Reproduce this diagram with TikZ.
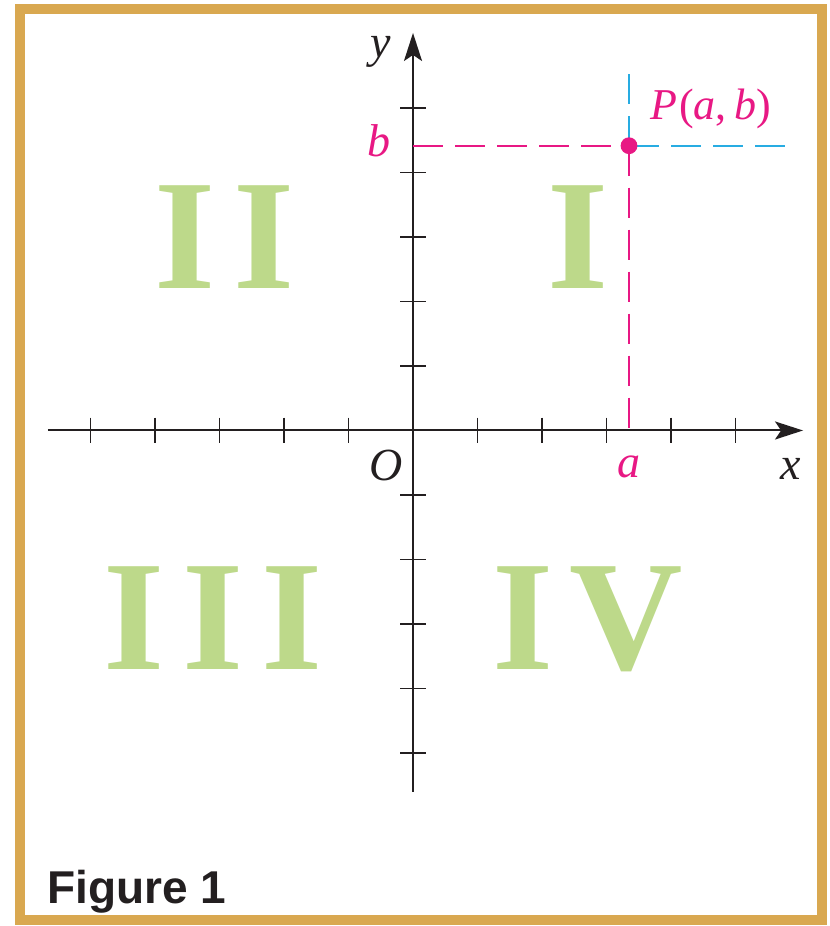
\documentclass[tikz,border=0pt]{standalone}
\usepackage{fontspec}
\setmainfont{Liberation Serif}
\newfontfamily\capfont{Liberation Sans}
\usepackage{xcolor}
\usetikzlibrary{arrows.meta}

\definecolor{frameGold}{RGB}{217,168,80}
\definecolor{quadGreen}{RGB}{189,217,138}
\definecolor{ptMagenta}{RGB}{232,24,132}
\definecolor{ptCyan}{RGB}{40,172,226}
\definecolor{inkGray}{RGB}{35,31,32}

\begin{document}
\begin{tikzpicture}[x=32.25pt,y=32.25pt,axis/.style={draw=inkGray,line width=1pt,-{Stealth[length=14pt,width=9pt,inset=3pt]}},tick/.style={draw=inkGray,line width=0.9pt},lbl/.style={anchor=base,inner sep=0pt,text=inkGray,font=\fontsize{23}{27}\selectfont\itshape},quad/.style={anchor=base,inner sep=0pt,text=quadGreen,font=\fontsize{78.5}{80}\selectfont\bfseries},guideM/.style={draw=ptMagenta,line width=1pt,dash pattern=on 15pt off 6pt},guideC/.style={draw=ptCyan,line width=1pt,dash pattern=on 15pt off 6pt}]
\path[fill=white,use as bounding box] (-6.403,-7.682) rectangle (6.450,6.674);
\draw[frameGold,line width=5pt] (-6.093,6.527) rectangle (6.333,-7.59);
% quadrant numerals
\node[quad] (qII) at (-2.915,2.209) {I\kern9pt I};
\node[quad] (qI) at (2.558,2.209) {I};
\node[quad] (qIII) at (-3.093,-3.698) {I\kern9pt I\kern9pt I};
\node[quad] (qIV) at (2.713,-3.698) {I\kern8pt V};
% axes
\coordinate (xL) at (-5.659,0);
\coordinate (xR) at (6.047,0);
\coordinate (yB) at (0,-5.6);
\coordinate (yT) at (0,6.163);
\draw[axis] (xL) -- (xR);
\draw[axis] (yB) -- (yT);
\foreach \k in {-5,-4,-3,-2,-1,1,2,3,4,5} {
  \draw[tick] (\k,0.2) -- (\k,-0.2);
  \draw[tick] (0.2,\k) -- (-0.2,\k);
}
% point and guides
\coordinate (aX) at (3.349,0);
\coordinate (bY) at (0,4.415);
\coordinate (cT) at (3.349,5.589);
\coordinate (cR) at (5.767,4.415);
\draw[guideC] (3.349,4.415) -- (cT);
\draw[guideC] (3.349,4.415) -- (cR);
\draw[guideM] (bY) -- (3.349,4.415);
\draw[guideM] (3.349,4.415) -- (aX);
\node[circle,fill=ptMagenta,inner sep=0pt,minimum size=8.4pt] (pt) at (3.349,4.415) {};
\node[lbl,text=ptMagenta,anchor=base west,font=\fontsize{22}{26}\selectfont] (lblP) at (3.674,4.814) {\textit{P}\kern1pt(\textit{a},\hspace{4pt}\textit{b})};
\node[lbl,text=ptMagenta] (lblB) at (-0.527,4.24) {b};
\node[lbl,text=ptMagenta] (lblA) at (3.349,-0.736) {a};
\node[lbl] (lblY) at (-0.496,5.79) {y};
\node[lbl] (lblX) at (5.86,-0.767) {x};
\node[lbl] (lblO) at (-0.419,-0.783) {O};
\node[anchor=base west,inner sep=0pt,text=inkGray,font=\capfont\bfseries\fontsize{23}{27}\selectfont] (cap) at (-5.674,-7.326) {Figure 1};
\end{tikzpicture}
\end{document}
